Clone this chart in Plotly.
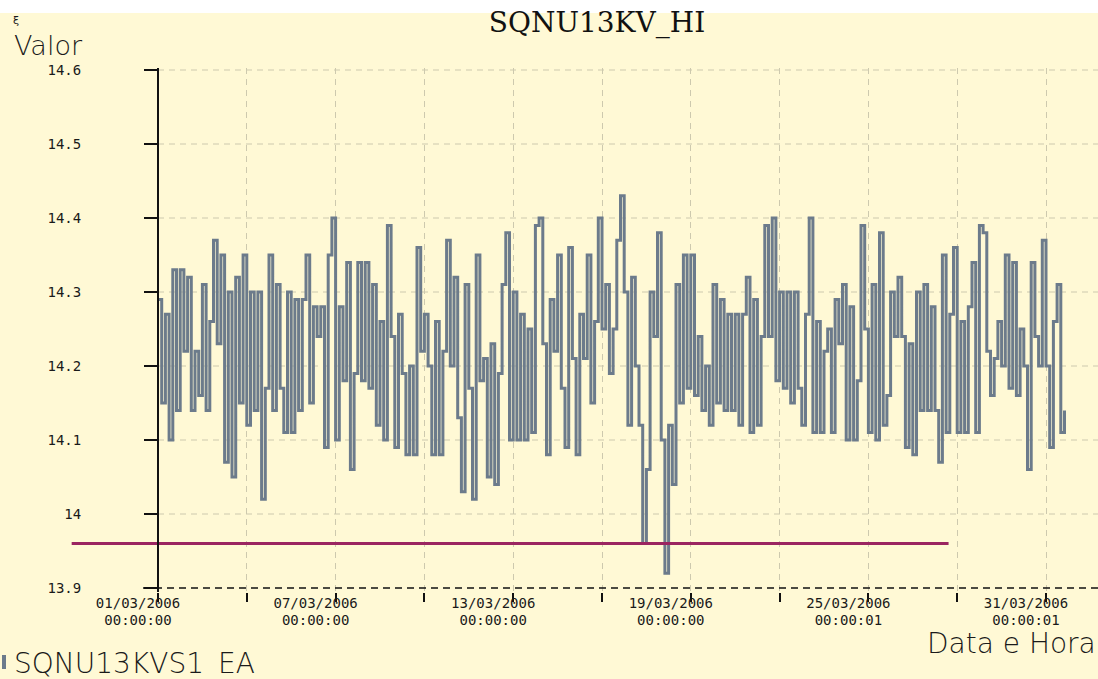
import pandas as pd
import plotly.graph_objects as go

# ---------------- data ----------------
title_text = "SQNU13KV_HI"
series_name = "SQNU13KVS1_EA"
y_title = "Valor"
x_title = "Data e Hora"

start_time = "2006-03-01 00:00"
step_hours = 3

week1 = [14.29, 14.15, 14.27, 14.10, 14.33, 14.14, 14.33, 14.22, 14.32, 14.14,
         14.22, 14.16, 14.31, 14.14, 14.26, 14.37, 14.23, 14.35, 14.07, 14.30,
         14.05, 14.32, 14.15, 14.35, 14.12, 14.30, 14.14, 14.30, 14.02, 14.17,
         14.35, 14.14, 14.31, 14.17, 14.11, 14.30, 14.11, 14.29, 14.14, 14.29,
         14.35, 14.15, 14.28, 14.24, 14.28, 14.09, 14.35, 14.40, 14.10, 14.28,
         14.18, 14.34, 14.06, 14.19, 14.34, 14.18, 14.34, 14.17, 14.31, 14.12,
         14.26, 14.10]
week2 = [14.39, 14.24, 14.09, 14.27, 14.19, 14.08, 14.20, 14.08, 14.36, 14.22,
         14.27, 14.20, 14.08, 14.26, 14.08, 14.22, 14.37, 14.20, 14.32, 14.13,
         14.03, 14.31, 14.17, 14.02, 14.35, 14.18, 14.21, 14.05, 14.23, 14.04,
         14.19, 14.31, 14.38, 14.10, 14.30, 14.10, 14.27, 14.10, 14.25, 14.11,
         14.39, 14.40, 14.23, 14.08, 14.29, 14.22, 14.35, 14.17, 14.09, 14.36,
         14.21, 14.08, 14.27, 14.21, 14.35, 14.15, 14.26, 14.40, 14.25, 14.31,
         14.19]
week3 = [14.25, 14.37, 14.43, 14.30, 14.12, 14.32, 14.20, 14.12, 13.96, 14.06,
         14.30, 14.24, 14.38, 14.10, 13.92, 14.12, 14.04, 14.31, 14.15, 14.35,
         14.17, 14.35, 14.16, 14.24, 14.14, 14.20, 14.12, 14.31, 14.15, 14.29,
         14.14, 14.27, 14.14, 14.27, 14.12, 14.27, 14.32, 14.11, 14.29, 14.12,
         14.24, 14.39, 14.24, 14.40, 14.18, 14.30, 14.17, 14.30, 14.15, 14.30,
         14.17, 14.12, 14.27, 14.40, 14.11, 14.26, 14.11, 14.22, 14.25, 14.11]
week4 = [14.29, 14.23, 14.31, 14.10, 14.28, 14.10, 14.18, 14.39, 14.25, 14.11,
         14.31, 14.10, 14.38, 14.12, 14.16, 14.30, 14.24, 14.32, 14.24, 14.09,
         14.23, 14.08, 14.30, 14.14, 14.31, 14.14, 14.28, 14.14, 14.07, 14.35,
         14.11, 14.27, 14.36, 14.11, 14.26, 14.11, 14.28, 14.34, 14.11, 14.39,
         14.38, 14.22, 14.16, 14.21, 14.26, 14.20, 14.35, 14.17, 14.34, 14.16,
         14.25, 14.20, 14.06, 14.34, 14.24, 14.20, 14.37, 14.20, 14.09, 14.26,
         14.31, 14.11, 14.14]

limit_dates = ["2006-02-26 02:00", "2006-03-27 17:00"]
limit_values = [13.96, 13.96]

y_ticks = [13.9, 14.0, 14.1, 14.2, 14.3, 14.4, 14.5, 14.6]
y_tick_labels = ["13.9", "14", "14.1", "14.2", "14.3", "14.4", "14.5", "14.6"]

x_ticks = ["2006-03-01", "2006-03-04", "2006-03-07", "2006-03-10", "2006-03-13",
           "2006-03-16", "2006-03-19", "2006-03-22", "2006-03-25", "2006-03-28",
           "2006-03-31"]
x_date_labels = ["01/03/2006", "", "07/03/2006", "", "13/03/2006", "",
                 "19/03/2006", "", "25/03/2006", "", "31/03/2006"]
x_time_labels = ["00:00:00", "", "00:00:00", "", "00:00:00", "",
                 "00:00:00", "", "00:00:01", "", "00:00:01"]

# ---------------- layout constants ----------------
W, H = 1098, 679
PLOT_L, AXIS_X = 60, 158
TOP, BOTTOM = 68, 592
PX_PER_DAY = 29.6
BG = "#FFF9D5"
GRID = "#cdc9ae"
SERIES_COLOR = "#6C7B8B"
LIMIT_COLOR = "#9b2560"
Y_TICK_FONT = dict(family="DejaVu Sans Mono", size=14, color="#1a1a1a")
X_TICK_FONT = dict(family="DejaVu Sans Mono", size=14, color="#1a1a1a")

values = week1 + week2 + week3 + week4
times = pd.date_range(start_time, periods=len(values), freq=f"{step_hours}h")

origin = pd.Timestamp(x_ticks[0])
x_lo = origin - pd.Timedelta(days=(AXIS_X - PLOT_L) / PX_PER_DAY)
x_hi = origin + pd.Timedelta(days=(W - AXIS_X) / PX_PER_DAY)
ppu = 740.0
y_lo = y_ticks[0] - (BOTTOM - 588) / ppu
y_hi = y_ticks[-1] + (70 - TOP) / ppu


def py(pix):
    return (BOTTOM - pix) / (BOTTOM - TOP)


fig = go.Figure()
fig.add_trace(go.Scatter(x=limit_dates, y=limit_values, mode="lines",
                         line=dict(color=LIMIT_COLOR, width=3), xaxis="x2",
                         name="limite", showlegend=False, hoverinfo="skip"))
fig.add_trace(go.Scatter(x=times, y=values, mode="lines", line_shape="hv",
                         line=dict(color=SERIES_COLOR, width=3),
                         name=series_name, showlegend=False))

shapes = []
# white band at top of the picture
shapes.append(dict(type="rect", xref="paper", yref="paper", x0=0, x1=1,
                   y0=py(13), y1=1.3, fillcolor="white", line_width=0,
                   layer="below"))
# horizontal dashed gridlines starting at the y axis
for yv in y_ticks[1:]:
    shapes.append(dict(type="line", xref="x", yref="y", x0=origin, x1=x_hi,
                       y0=yv, y1=yv, line=dict(color=GRID, width=1, dash="6px,5px"),
                       layer="below"))
# dashed x axis line
shapes.append(dict(type="line", xref="x", yref="y",
                   x0=origin - pd.Timedelta(days=15 / PX_PER_DAY), x1=x_hi,
                   y0=y_ticks[0], y1=y_ticks[0],
                   line=dict(color="#111111", width=1.5, dash="7px,5px")))
# legend swatch
shapes.append(dict(type="rect", xref="paper", yref="paper",
                   x0=2 / W, x1=6 / W, y0=py(669), y1=py(655),
                   fillcolor=SERIES_COLOR, line_width=0))

annotations = [
    dict(text=y_title, xref="paper", yref="paper", x=12 / W, y=py(45),
         xanchor="left", yanchor="middle", showarrow=False,
         font=dict(family="DejaVu Sans", size=27, color="#1a1a1a", weight=300)),
    dict(text="ξ", xref="paper", yref="paper", x=16 / W, y=py(21),
         xanchor="center", yanchor="middle", showarrow=False,
         font=dict(family="DejaVu Sans", size=11, color="#1a1a1a")),
    dict(text=x_title, xref="paper", yref="paper", x=1098 / W, y=py(643),
         xanchor="right", yanchor="middle", showarrow=False,
         font=dict(family="DejaVu Sans", size=28, color="#1a1a1a", weight=300)),
    dict(text=series_name, xref="paper", yref="paper", x=12 / W, y=py(664),
         xanchor="left", yanchor="middle", showarrow=False,
         font=dict(family="DejaVu Sans", size=28, color="#1a1a1a", weight=300)),
]

fig.update_layout(
    width=W, height=H,
    margin=dict(l=0, r=0, t=TOP, b=H - BOTTOM, pad=0),
    paper_bgcolor=BG, plot_bgcolor=BG,
    title=dict(text=title_text, x=597 / W, xanchor="center",
               y=1 - 22 / H, yanchor="middle",
               font=dict(family="DejaVu Serif", size=28, color="#111111")),
    showlegend=False,
    shapes=shapes,
    annotations=annotations,
    xaxis=dict(domain=[PLOT_L / W, 1], range=[x_lo, x_hi], type="date",
               tickmode="array", tickvals=x_ticks, ticktext=x_date_labels,
               ticks="outside", ticklen=9, tickwidth=1.5, tickcolor="#111111",
               showline=False, zeroline=False,
               showgrid=True, gridcolor=GRID, gridwidth=1, griddash="6px,5px",
               tickfont=X_TICK_FONT, ticklabelshift=-20, ticklabelstandoff=-11),
    xaxis2=dict(overlaying="x", matches="x", anchor="y", side="bottom",
                type="date", range=[x_lo, x_hi],
                tickmode="array", tickvals=x_ticks, ticktext=x_time_labels,
                ticks="", showline=False, zeroline=False, showgrid=False,
                tickfont=X_TICK_FONT, ticklabelshift=-20, ticklabelstandoff=18),
    yaxis=dict(range=[y_lo, y_hi], anchor="free", position=AXIS_X / W,
               tickmode="array", tickvals=y_ticks, ticktext=y_tick_labels,
               ticks="outside", ticklen=13, tickwidth=2, tickcolor="#111111",
               showline=True, linecolor="#111111", linewidth=2,
               showgrid=False, zeroline=False,
               tickfont=Y_TICK_FONT, ticklabelstandoff=60),
)

fig.write_html("out.html",
               config={"displayModeBar": False},
               post_script="document.body.style.margin='0';"
                           "document.body.style.padding='0';"
                           "document.documentElement.style.overflow='hidden';")
